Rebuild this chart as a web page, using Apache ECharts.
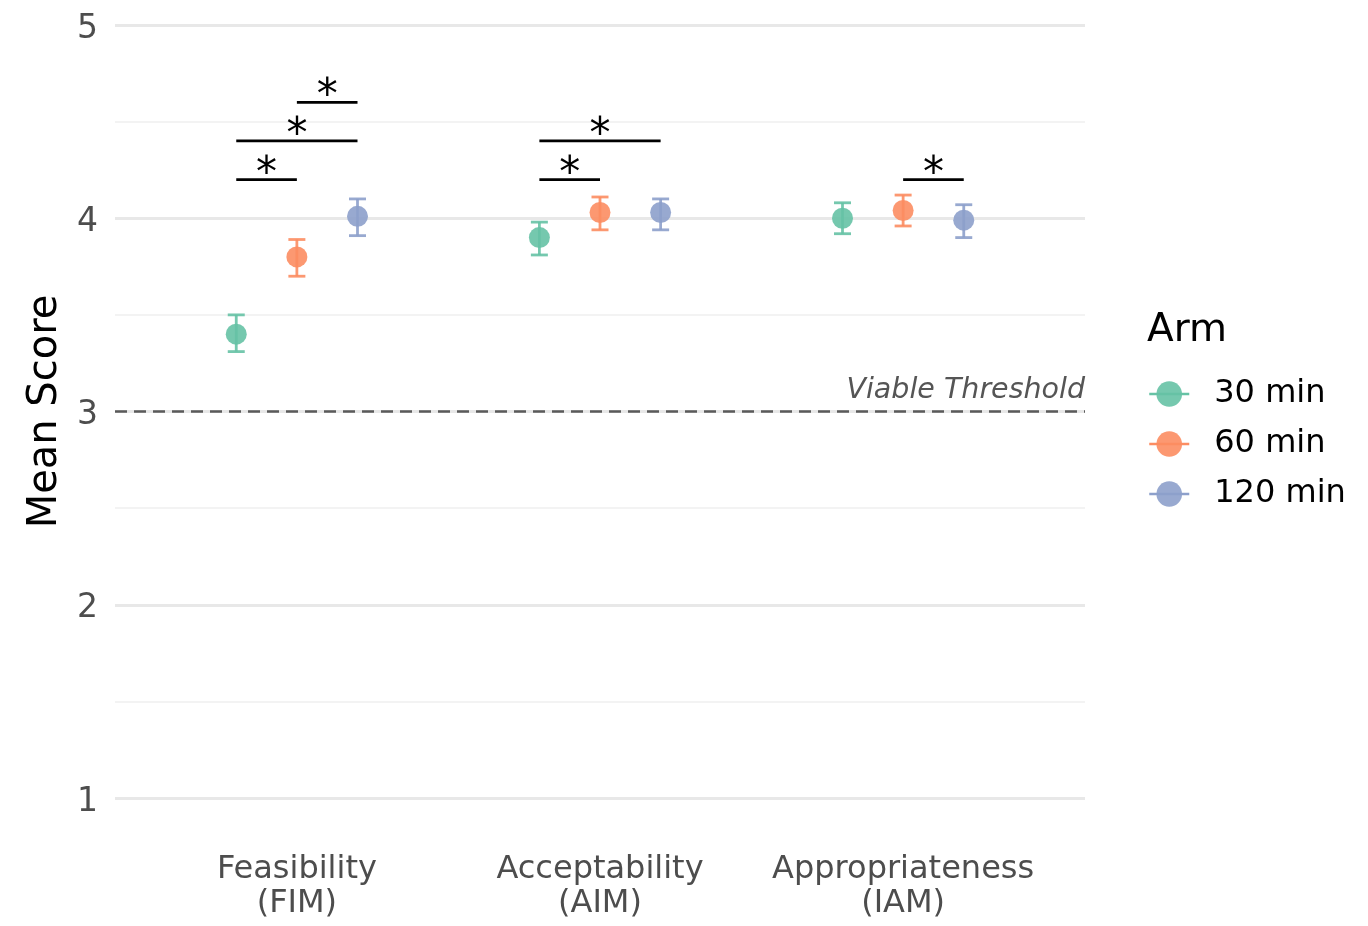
<!DOCTYPE html>
<html>
<head>
<meta charset="utf-8">
<script src="https://cdn.jsdelivr.net/npm/echarts@6/dist/echarts.min.js"></script>
<style>
  html, body { margin: 0; padding: 0; background: #fff; }
  #chart { width: 1368px; height: 926px; }
</style>
</head>
<body>
<div id="chart"></div>
<script>
// categories and arms
const categories = ["Feasibility\n(FIM)", "Acceptability\n(AIM)", "Appropriateness\n(IAM)"];
const arms = ["30 min", "60 min", "120 min"];
const armColors = ["#66C2A5", "#FC8D62", "#8DA0CB"];

// mean scores with error bar limits, per arm
const mean30 = [3.40, 3.90, 4.00];
const lower30 = [3.31, 3.81, 3.92];
const upper30 = [3.50, 3.98, 4.08];
const mean60 = [3.80, 4.03, 4.04];
const lower60 = [3.70, 3.94, 3.96];
const upper60 = [3.89, 4.11, 4.12];
const mean120 = [4.01, 4.03, 3.99];
const lower120 = [3.91, 3.94, 3.90];
const upper120 = [4.10, 4.10, 4.07];

// significance brackets: category, from arm, to arm, height
const sigCategory = [0, 0, 0, 1, 1, 2];
const sigFrom = [0, 0, 1, 0, 0, 1];
const sigTo = [1, 2, 2, 1, 2, 2];
const sigHeight = [4.2, 4.4, 4.6, 4.2, 4.4, 4.2];
const sigLabel = ["*", "*", "*", "*", "*", "*"];

const threshold = 3;
const yTicks = [1, 2, 3, 4, 5];

const dodge = [-0.2, 0, 0.2];
const means = [mean30, mean60, mean120];
const lowers = [lower30, lower60, lower120];
const uppers = [upper30, upper60, upper120];

const chart = echarts.init(document.getElementById("chart"));

const pointSeries = arms.map((arm, a) => ({
  name: arm,
  type: "line",
  data: means[a].map((m, i) => [i + 1 + dodge[a], m]),
  symbol: "circle",
  symbolSize: 21,
  showSymbol: true,
  lineStyle: { width: 2.5, opacity: 0 },
  itemStyle: { color: armColors[a], opacity: 0.9 },
  z: 5,
}));

const errorSeries = arms.map((arm, a) => ({
  name: "err " + arm,
  type: "custom",
  data: means[a].map((m, i) => [i + 1 + dodge[a], lowers[a][i], uppers[a][i]]),
  encode: { x: 0, y: [1, 2] },
  renderItem: (params, api) => {
    const lo = api.coord([api.value(0), api.value(1)]);
    const hi = api.coord([api.value(0), api.value(2)]);
    const w = 8.5;
    const style = { stroke: armColors[a], lineWidth: 2.8, opacity: 0.9 };
    return {
      type: "group",
      children: [
        { type: "line", shape: { x1: lo[0], y1: lo[1], x2: hi[0], y2: hi[1] }, style },
        { type: "line", shape: { x1: lo[0] - w, y1: lo[1], x2: lo[0] + w, y2: lo[1] }, style },
        { type: "line", shape: { x1: hi[0] - w, y1: hi[1], x2: hi[0] + w, y2: hi[1] }, style },
      ],
    };
  },
  z: 4,
}));

const sigSeries = {
  name: "sig",
  type: "custom",
  data: sigCategory.map((c, i) => [
    c + 1 + dodge[sigFrom[i]],
    c + 1 + dodge[sigTo[i]],
    sigHeight[i],
  ]),
  encode: { x: [0, 1], y: 2 },
  renderItem: (params, api) => {
    const p1 = api.coord([api.value(0), api.value(2)]);
    const p2 = api.coord([api.value(1), api.value(2)]);
    return {
      type: "group",
      children: [
        {
          type: "line",
          shape: { x1: p1[0], y1: p1[1], x2: p2[0], y2: p2[1] },
          style: { stroke: "#000", lineWidth: 2.8 },
        },
        {
          type: "text",
          style: {
            text: sigLabel[params.dataIndex],
            x: (p1[0] + p2[0]) / 2,
            y: p1[1] - 5,
            align: "center",
            verticalAlign: "middle",
            fontSize: 42,
            fontFamily: "DejaVu Sans",
            fill: "#000",
          },
        },
      ],
    };
  },
  z: 6,
};

// threshold line on first series
pointSeries[0].markLine = {
  silent: true,
  symbol: "none",
  data: [{ yAxis: threshold }],
  lineStyle: { type: [12, 7], color: "#5a5a5a", width: 2.5 },
  label: {
    position: "insideEndTop",
    formatter: "Viable Threshold",
    fontStyle: "italic",
    fontSize: 28.5,
    color: "#555555",
    distance: [0, 6],
  },
};

chart.setOption({
  animation: false,
  textStyle: { fontFamily: "DejaVu Sans" },
  title: {
    text: "Arm",
    left: 1142,
    top: 306,
    textStyle: { fontSize: 39, fontWeight: "normal", color: "#000", fontFamily: "DejaVu Sans" },
  },
  legend: {
    data: arms,
    orient: "vertical",
    left: 1143,
    top: 373,
    itemWidth: 40,
    itemHeight: 32,
    itemGap: 18,
    lineStyle: { opacity: 1, width: 2.5 },
    textStyle: { fontSize: 32, color: "#000", padding: [0, 0, 0, 20] },
  },
  grid: { left: 115, right: 283, top: 25, bottom: 128 },
  xAxis: {
    type: "value",
    min: 0.4,
    max: 3.6,
    axisLine: { show: false },
    axisTick: { show: false },
    splitLine: { show: false },
    axisLabel: {
      customValues: [1, 2, 3],
      formatter: (v) => categories[Math.round(v) - 1],
      fontSize: 32,
      lineHeight: 34,
      color: "#4d4d4d",
      margin: 55,
    },
  },
  yAxis: {
    type: "value",
    min: yTicks[0],
    max: yTicks[yTicks.length - 1],
    interval: 1,
    name: "Mean Score",
    nameLocation: "middle",
    nameGap: 43,
    nameTextStyle: { fontSize: 40, color: "#000" },
    axisLine: { show: false },
    axisTick: { show: false },
    axisLabel: {
      color: "#4d4d4d",
      margin: 17,
      formatter: (v) => "{t|" + v + "}",
      rich: { t: { fontSize: 33, color: "#4d4d4d", padding: [8, 0, 0, 0] } },
    },
    splitLine: { lineStyle: { color: "#e8e8e8", width: 3 } },
    minorTick: { show: false, splitNumber: 2 },
    minorSplitLine: { show: true, lineStyle: { color: "#efefef", width: 1.5 } },
  },
  series: [...errorSeries, ...pointSeries, sigSeries],
});
</script>
</body>
</html>
